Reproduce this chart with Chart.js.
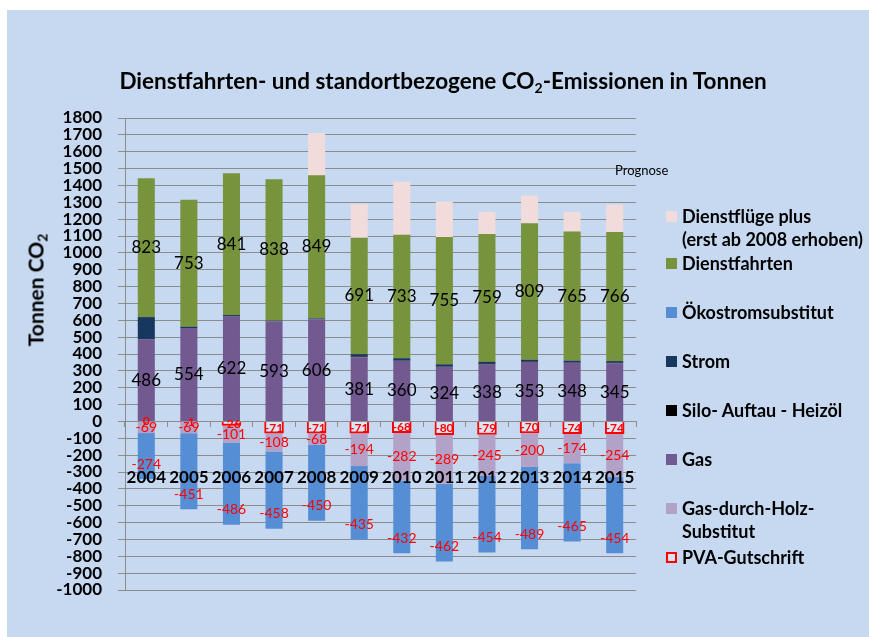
<!DOCTYPE html>
<html>
<head>
<meta charset="utf-8">
<script src="https://cdn.jsdelivr.net/npm/chart.js@4.4.0/dist/chart.umd.min.js"></script>
<style>
  html, body { margin: 0; padding: 0; background: #fff; }
  #wrap { position: relative; width: 869px; height: 637px; overflow: hidden; font-family: Lato, 'Open Sans', sans-serif; color: #000; }
  #bg { position: absolute; left: 7px; top: 10px; right: 0; bottom: 0; background: #c6d9f1; }
  #barChart { position: absolute; left: 0; top: 0; }
  #title { position: absolute; top: 67px; left: 0; width: 886px; text-align: center; font-weight: bold; font-size: 22.5px; white-space: nowrap; }
  sub { font-size: 14px; vertical-align: -4px; line-height: 0; }
  #ytitle { position: absolute; left: 35px; top: 290px; transform: translate(-50%, -50%) rotate(-90deg); font-weight: bold; font-size: 21px; white-space: nowrap; }
  #prognose { position: absolute; left: 615px; top: 162px; font-size: 13px; }
  .lg { position: absolute; left: 682px; font-weight: bold; font-size: 18px; line-height: 23px; white-space: nowrap; }
  .sw { position: absolute; left: 666px; width: 11px; height: 11px; box-sizing: border-box; }
</style>
</head>
<body>
<div id="wrap">
  <div id="bg"></div>
  <canvas id="barChart" width="869" height="637"></canvas>
  <div id="title">Dienstfahrten- und standortbezogene CO<sub>2</sub>-Emissionen in Tonnen</div>
  <div id="ytitle">Tonnen CO<sub>2</sub></div>
  <div id="prognose">Prognose</div>
  <div id="legend"></div>
</div>
<script>
'use strict'

const years = ['2004', '2005', '2006', '2007', '2008', '2009', '2010', '2011', '2012', '2013', '2014', '2015'];

const gas      = [486, 554, 622, 593, 606, 381, 360, 324, 338, 353, 348, 345];
const silo     = [0, 0, 0, 0, 0, 4, 3, 3, 3, 3, 3, 3];
const strom    = [133, 8, 9, 5, 5, 14, 12, 12, 12, 10, 10, 10];
const fahrten  = [823, 753, 841, 838, 849, 691, 733, 755, 759, 809, 765, 766];
const fluege   = [0, 0, 0, 0, 250, 198, 314, 210, 131, 164, 117, 162];
const pva      = [0, -1, -26, -71, -71, -71, -68, -80, -79, -70, -74, -74];
const holz     = [-69, -69, -101, -108, -68, -194, -282, -289, -245, -200, -174, -254];
const oeko     = [-274, -451, -486, -458, -450, -435, -432, -462, -454, -489, -465, -454];

const yTicksMin = -1000;
const yTicksMax = 1800;
const yTicksStep = 100;

const ctx = document.getElementById('barChart');

const datasets = [
  { label: 'Gas', data: gas, backgroundColor: '#725990' },
  { label: 'Silo- Auftau - Heizöl', data: silo, backgroundColor: '#000000' },
  { label: 'Strom', data: strom, backgroundColor: '#17375e' },
  { label: 'Dienstfahrten', data: fahrten, backgroundColor: '#77933c' },
  { label: 'Dienstflüge plus', data: fluege, backgroundColor: '#f2dcdb' },
  { label: 'PVA-Gutschrift', data: pva, backgroundColor: 'rgba(255,255,255,0.35)', borderColor: '#ff0000', borderWidth: 2, barPercentage: 0.46 },
  { label: 'Gas-durch-Holz-Substitut', data: holz, backgroundColor: '#b3a2c7' },
  { label: 'Ökostromsubstitut', data: oeko, backgroundColor: '#558ed5' },
];

// which series get value labels, and how
const labelStyle = {
  'Gas': { color: '#000', font: '17px Lato', pos: 'center' },
  'Dienstfahrten': { color: '#000', font: '17px Lato', pos: 'center' },
  'PVA-Gutschrift': { color: '#ff0000', font: 'bold 12px Lato', pos: 'center' },
  'Gas-durch-Holz-Substitut': { color: '#ff0000', font: '14px Lato', pos: 'center' },
  'Ökostromsubstitut': { color: '#ff0000', font: '14px Lato', pos: 'end' },
};

const valueLabels = {
  id: 'valueLabels',
  afterDatasetsDraw(chart) {
    const c = chart.ctx;
    const ys = chart.scales.y;
    const y0 = ys.getPixelForValue(0);
    c.save();
    c.textAlign = 'center';
    c.textBaseline = 'middle';
    chart.data.datasets.forEach((ds, i) => {
      const st = labelStyle[ds.label];
      if (!st) return;
      c.fillStyle = st.color;
      c.font = st.font;
      chart.getDatasetMeta(i).data.forEach((bar, j) => {
        let y = st.pos === 'end' ? bar.y - 15 : (bar.y + bar.base) / 2;
        if (ds.data[j] === 0) y = y0;
        c.fillText(String(ds.data[j]), bar.x, y);
      });
    });
    // year labels sit below the zero line, over the bars
    const xs = chart.scales.x;
    c.fillStyle = '#000';
    c.font = 'bold 17px Lato';
    years.forEach((yr, j) => c.fillText(yr, xs.getPixelForValue(j), y0 + 56));
    c.restore();
  }
};

new Chart(ctx, {
  type: 'bar',
  data: { labels: years, datasets: datasets },
  options: {
    responsive: false,
    animation: false,
    datasets: { bar: { barPercentage: 0.4, categoryPercentage: 1, borderWidth: 0 } },
    layout: { padding: { top: 118, right: 233, bottom: 47, left: 0 } },
    plugins: {
      legend: { display: false },
      title: { display: false },
      tooltip: { enabled: false }
    },
    scales: {
      x: {
        stacked: true,
        position: { y: 0 },
        grid: { drawOnChartArea: false, color: '#8c8c8c', tickLength: 5, offset: true },
        border: { color: '#8c8c8c' },
        ticks: { display: false }
      },
      y: {
        stacked: true,
        min: yTicksMin,
        max: yTicksMax,
        ticks: {
          stepSize: yTicksStep,
          autoSkip: false,
          color: '#000',
          padding: 16,
          font: { family: 'Lato', size: 17, weight: 'bold' },
          callback: v => String(v)
        },
        grid: { color: '#8c8c8c', tickLength: 7 },
        border: { color: '#8c8c8c' },
        afterFit(scale) { scale.width = 125; }
      }
    }
  },
  plugins: [valueLabels]
});

// legend, in the order of the original
const legendItems = [
  { text: 'Dienstflüge plus<br>(erst ab 2008 erhoben)', y: 217, color: '#f2dcdb' },
  { text: 'Dienstfahrten', y: 264, color: '#77933c' },
  { text: 'Ökostromsubstitut', y: 313, color: '#558ed5' },
  { text: 'Strom', y: 362, color: '#17375e' },
  { text: 'Silo- Auftau - Heizöl', y: 411, color: '#000000' },
  { text: 'Gas', y: 460, color: '#725990' },
  { text: 'Gas-durch-Holz-<br>Substitut', y: 509, color: '#b3a2c7' },
  { text: 'PVA-Gutschrift', y: 558, color: '#d9e3f0', border: '#ff0000' },
];
const legend = document.getElementById('legend');
legendItems.forEach(it => {
  const sw = document.createElement('div');
  sw.className = 'sw';
  sw.style.top = (it.y - 6) + 'px';
  sw.style.background = it.color;
  if (it.border) sw.style.border = '2px solid ' + it.border;
  legend.appendChild(sw);
  const t = document.createElement('div');
  t.className = 'lg';
  t.style.top = (it.y - 12) + 'px';
  t.innerHTML = it.text;
  legend.appendChild(t);
});
</script>
</body>
</html>
